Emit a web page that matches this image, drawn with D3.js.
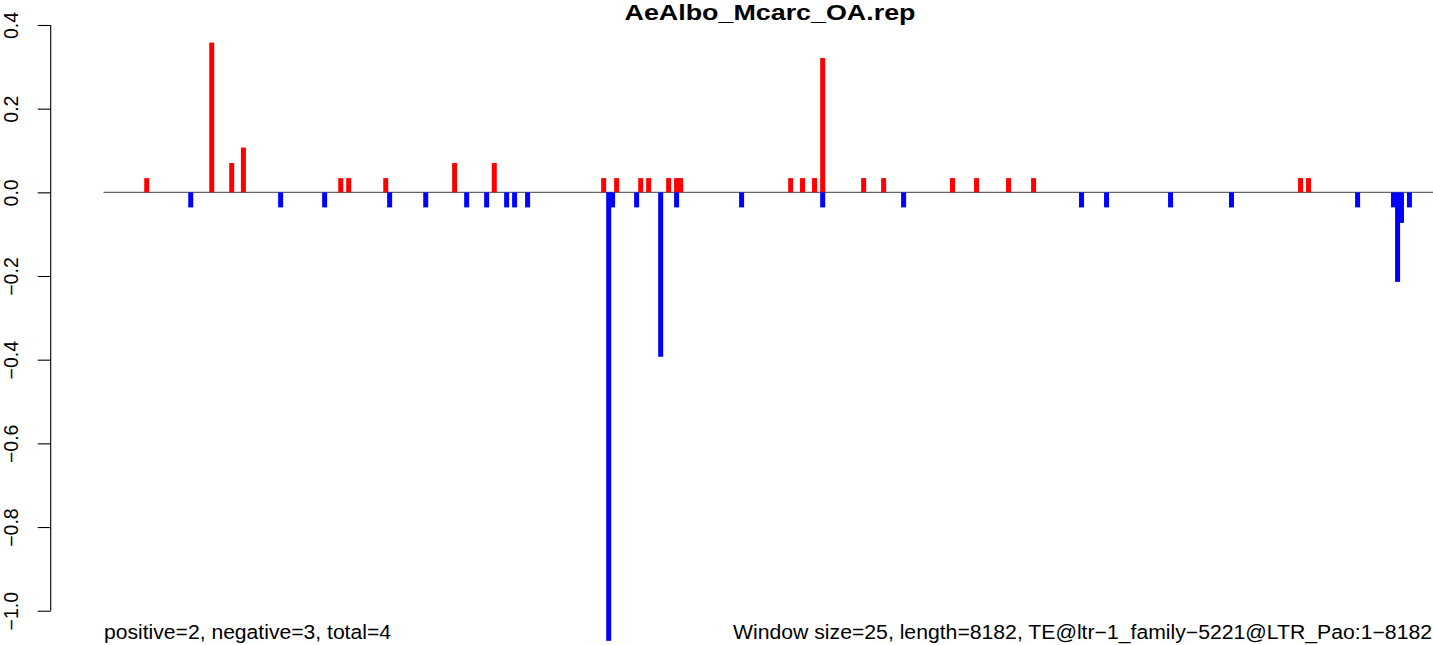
<!DOCTYPE html>
<html>
<head>
<meta charset="utf-8">
<script src="https://cdn.jsdelivr.net/npm/d3@7"></script>
<style>
  html, body { margin: 0; padding: 0; background: #ffffff; }
  svg { display: block; }
  text { font-family: "Liberation Sans", Arial, Helvetica, sans-serif; }
</style>
</head>
<body>
<svg id="chart" width="1433" height="645"></svg>
<script>
// ---- data ----
const title = "AeAlbo_Mcarc_OA.rep";
const seqLength = 8182;
const leftNote = "positive=2, negative=3, total=4";
const rightNote = "Window size=25, length=8182, TE@ltr\u22121_family\u22125221@LTR_Pao:1\u22128182";

const yTicks = [0.4, 0.2, 0.0, -0.2, -0.4, -0.6, -0.8, -1.0];

const posPositions = [266, 666, 789, 861, 1460, 1509, 1737, 2161, 2405, 3078, 3158, 3306, 3355, 3478, 3527, 3552, 4229, 4302, 4376, 4426, 4678, 4801, 5225, 5373, 5570, 5724, 7367, 7416];
const posValues    = [0.034, 0.358, 0.070, 0.107, 0.034, 0.034, 0.034, 0.070, 0.070, 0.034, 0.034, 0.034, 0.034, 0.034, 0.034, 0.034, 0.034, 0.034, 0.034, 0.321, 0.034, 0.034, 0.034, 0.034, 0.034, 0.034, 0.034, 0.034];

const negPositions = [537, 1090, 1361, 1761, 1983, 2235, 2358, 2481, 2530, 2610, 3109, 3133, 3281, 3429, 3527, 3927, 4426, 4924, 6019, 6173, 6567, 6942, 7718, 7939, 7964, 7988, 8037];
const negValues    = [-0.036, -0.036, -0.036, -0.036, -0.036, -0.036, -0.036, -0.036, -0.036, -0.036, -1.072, -0.036, -0.036, -0.393, -0.036, -0.036, -0.036, -0.036, -0.036, -0.036, -0.036, -0.036, -0.036, -0.036, -0.214, -0.073, -0.036];

// ---- drawing ----
const svg = d3.select("#chart");
svg.append("rect").attr("width", 1433).attr("height", 645).attr("fill", "#ffffff");

const x = d3.scaleLinear().domain([0, seqLength]).range([103.5, 1433]);
const y = d3.scaleLinear().domain([0.4, -1.0]).range([25, 610.7]);

const fmt = v => (v < 0 ? "\u2212" : "") + Math.abs(v).toFixed(1);

// y axis
const axis = d3.axisLeft(y).tickValues(yTicks).tickSize(13).tickPadding(0).tickFormat(fmt);
const gAxis = svg.append("g").attr("transform", "translate(50.7,0)").call(axis);
gAxis.select(".domain").attr("d", `M0,${y(0.4)}V${y(-1.0)}`).attr("stroke", "#000").attr("stroke-width", 1.1);
gAxis.selectAll(".tick line").attr("stroke", "#000").attr("stroke-width", 1.1);
gAxis.selectAll(".tick text").remove();
gAxis.selectAll(".tick").append("text")
  .attr("transform", "translate(-32.4,0) rotate(-90)")
  .attr("text-anchor", "middle")
  .attr("fill", "#000")
  .attr("font-size", 19.5)
  .text(d => fmt(d));

// baseline
svg.append("line")
  .attr("x1", x(0)).attr("x2", x(seqLength))
  .attr("y1", y(0)).attr("y2", y(0))
  .attr("stroke", "#666666").attr("stroke-width", 1.1);

const barW = 5;
// positive bars
svg.append("g").selectAll("rect").data(posPositions.map((p, i) => ({p, v: posValues[i]})))
  .join("rect")
  .attr("x", d => x(d.p) - barW / 2)
  .attr("width", barW)
  .attr("y", d => y(d.v))
  .attr("height", d => y(0) - y(d.v))
  .attr("fill", "#ff0000");

// negative bars
svg.append("g").selectAll("rect").data(negPositions.map((p, i) => ({p, v: negValues[i]})))
  .join("rect")
  .attr("x", d => x(d.p) - barW / 2)
  .attr("width", barW)
  .attr("y", y(0))
  .attr("height", d => y(d.v) - y(0))
  .attr("fill", "#0000ff");

// title
svg.append("text")
  .attr("x", 770).attr("y", 19.5)
  .attr("text-anchor", "middle")
  .attr("font-size", 21.5).attr("font-weight", "bold")
  .attr("textLength", 291).attr("lengthAdjust", "spacingAndGlyphs")
  .attr("fill", "#000")
  .text(title);

// bottom notes
svg.append("text")
  .attr("x", 104).attr("y", 639)
  .attr("font-size", 19.5)
  .attr("textLength", 287).attr("lengthAdjust", "spacingAndGlyphs")
  .attr("fill", "#000")
  .text(leftNote);

svg.append("text")
  .attr("x", 733).attr("y", 639)
  .attr("font-size", 19.5)
  .attr("textLength", 699).attr("lengthAdjust", "spacingAndGlyphs")
  .attr("fill", "#000")
  .text(rightNote);
</script>
</body>
</html>
